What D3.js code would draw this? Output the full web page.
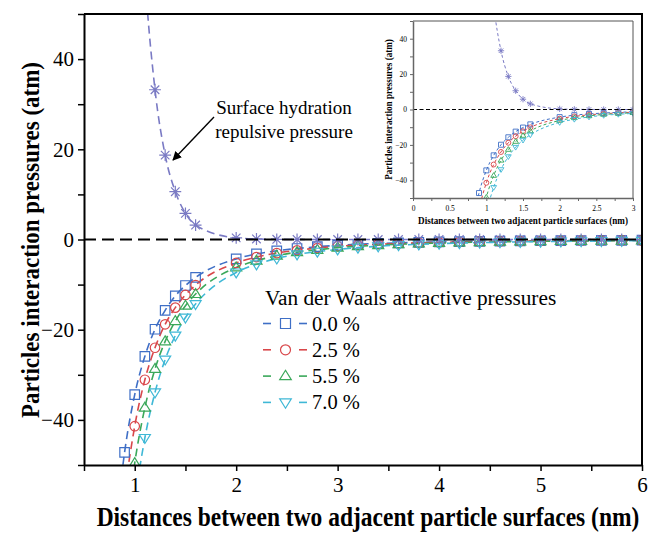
<!DOCTYPE html>
<html><head><meta charset="utf-8">
<script src="https://cdn.jsdelivr.net/npm/d3@7"></script>
<style>body{margin:0;background:#fff}svg{display:block}text{font-family:"Liberation Serif","Times New Roman",serif}</style>
</head><body><svg id="c" width="648" height="537"></svg>
<script>
// ---- data ----
const vdwX = [0.8,0.9,1.0,1.1,1.2,1.3,1.4,1.5,1.6,2.0,2.2,2.4,2.6,2.8,3.0,3.2,3.4,3.6,3.8,4.0,4.2,4.4,4.6,4.8,5.0,5.2,5.4,5.6,5.8,6.0];
const vdw00 = [-67.2,-47.2,-34.4,-25.9,-19.9,-15.7,-12.5,-10.2,-8.4,-4.3,-3.2,-2.5,-2.0,-1.6,-1.3,-1.05,-0.88,-0.74,-0.63,-0.54,-0.46,-0.40,-0.35,-0.31,-0.28,-0.24,-0.22,-0.20,-0.18,-0.16];
const vdw25 = [-80.9,-56.8,-41.4,-31.1,-24.0,-18.8,-15.1,-12.3,-10.1,-5.2,-3.9,-3.0,-2.4,-1.9,-1.5,-1.26,-1.05,-0.89,-0.75,-0.65,-0.56,-0.49,-0.43,-0.37,-0.33,-0.29,-0.26,-0.24,-0.21,-0.19];
const vdw55 = [-96.9,-68.0,-49.6,-37.3,-28.7,-22.6,-18.1,-14.7,-12.1,-6.2,-4.7,-3.6,-2.8,-2.3,-1.8,-1.5,-1.26,-1.06,-0.90,-0.78,-0.67,-0.58,-0.51,-0.45,-0.40,-0.35,-0.32,-0.28,-0.25,-0.23];
const vdw70 = [-114,-80.2,-58.5,-44.0,-33.9,-26.6,-21.3,-17.3,-14.3,-7.3,-5.5,-4.2,-3.3,-2.7,-2.2,-1.8,-1.5,-1.25,-1.07,-0.91,-0.79,-0.69,-0.60,-0.53,-0.47,-0.42,-0.37,-0.33,-0.30,-0.27];
const hydX = [1.0,1.1,1.2,1.3,1.4,1.5,1.6,2.0,2.2,2.4,2.6,2.8,3.0,3.2,3.4,3.6,3.8,4.0,4.2,4.4,4.6,4.8,5.0,5.2,5.4,5.6,5.8,6.0];
const hydration = [105,59,33.2,18.7,10.6,5.8,3.2,0.35,0.12,0.04,0.01,0,0,0,0,0,0,0,0,0,0,0,0,0,0,0,0,0];
const seriesNames = ["0.0 %","2.5 %","5.5 %","7.0 %"];
const seriesColors = ["#3f6fc6","#d9474a","#3aa85a","#3fb8d6"];
const seriesShapes = ["square","circle","triUp","triDown"];
const hydColor = "#7a7ac4";
const xTicksMain = [1,2,3,4,5,6];
const yTicksMain = [-40,-20,0,20,40];
const xTicksInset = [0,0.5,1,1.5,2,2.5,3];
const legendTitle = "Van der Waals attractive pressures";
const annotation = ["Surface hydration","repulsive pressure"];
const xTitle = "Distances between two adjacent particle surfaces (nm)";
const yTitle = "Particles interaction pressures (atm)";

const vdwSeries = [vdw00,vdw25,vdw55,vdw70].map((v,i)=>({name:seriesNames[i],color:seriesColors[i],shape:seriesShapes[i],pts:vdwX.map((x,j)=>[x,v[j]])}));
const hydPts = hydX.map((x,j)=>[x,hydration[j]]);

const svg = d3.select("#c");
svg.append("rect").attr("width",648).attr("height",537).attr("fill","#fff");
const defs = svg.append("defs");

function symbolPath(shape, s){
  const h=s/2;
  if(shape==="square") return `M${-h},${-h}H${h}V${h}H${-h}Z`;
  if(shape==="circle") return `M${h},0A${h},${h} 0 1,1 ${-h},0A${h},${h} 0 1,1 ${h},0Z`;
  if(shape==="triUp") { const t=s*0.58; return `M0,${-t}L${t*1.0},${t*0.62}L${-t*1.0},${t*0.62}Z`; }
  if(shape==="triDown") { const t=s*0.58; return `M0,${t}L${t*1.0},${-t*0.62}L${-t*1.0},${-t*0.62}Z`; }
  if(shape==="star") { const d=h*0.72; return `M0,${-h}V${h}M${-h},0H${h}M${-d},${-d}L${d},${d}M${-d},${d}L${d},${-d}`; }
}

function panel(g, opt){
  const x = d3.scaleLinear().domain(opt.xd).range([opt.l,opt.r]);
  const y = d3.scaleLinear().domain([-50,50]).range([opt.b,opt.t]);
  const id = "clip"+opt.id;
  defs.append("clipPath").attr("id",id).append("rect").attr("x",opt.l).attr("y",opt.t).attr("width",opt.r-opt.l).attr("height",opt.b-opt.t);
  const plot = g.append("g").attr("clip-path",`url(#${id})`);
  const line = d3.line().x(d=>x(d[0])).y(d=>y(d[1])).curve(d3.curveMonotoneX);
  const all = vdwSeries.concat([{color:hydColor,shape:"star",pts:hydPts}]);
  all.forEach(s=>{
    const pts = s.pts.filter(p=>p[0]<=opt.xd[1]+1e-9);
    plot.append("path").attr("d",line(pts)).attr("fill","none").attr("stroke",s.color).attr("stroke-width",opt.lw).attr("stroke-dasharray",opt.dash);
  });
  all.forEach(s=>{
    const pts = s.pts.filter(p=>p[0]<=opt.xd[1]+1e-9 && p[1]>-60 && p[1]<60);
    plot.selectAll(null).data(pts).enter().append("path")
      .attr("transform",d=>`translate(${x(d[0])},${y(d[1])})`)
      .attr("d",symbolPath(s.shape, s.shape==="star"?opt.ms*1.25:opt.ms))
      .attr("fill","none").attr("stroke",s.color).attr("stroke-width",opt.mw);
  });
  // zero line
  g.append("line").attr("x1",opt.l).attr("x2",opt.r).attr("y1",y(0)).attr("y2",y(0))
    .attr("stroke","#000").attr("stroke-width",opt.zw).attr("stroke-dasharray",opt.zdash);
  // axes
  const xa = d3.axisBottom(x).tickValues(d3.range(opt.xd[0],opt.xd[1]+1e-9,opt.xminor)).tickSize(opt.tl).tickSizeOuter(0)
    .tickFormat(d=>opt.xlabels.some(v=>Math.abs(v-d)<1e-9)?d3.format("~g")(d):"");
  const gx = g.append("g").attr("transform",`translate(0,${opt.b})`).call(xa);
  const ya = d3.axisLeft(y).tickValues(d3.range(-50,50.001,10)).tickSize(opt.tl).tickSizeOuter(0)
    .tickFormat(d=>yTicksMain.includes(Math.round(d))?d3.format("d")(d):"");
  const gy = g.append("g").attr("transform",`translate(${opt.l},0)`).call(ya);
  [gx,gy].forEach(a=>{
    a.attr("font-family",null);
    a.select(".domain").attr("stroke",opt.axc).attr("stroke-width",opt.aw);
    a.selectAll(".tick line").attr("stroke",opt.axc).attr("stroke-width",opt.tw);
    a.selectAll(".tick text").attr("font-size",opt.fs).attr("fill","#000").style("font-family","'Liberation Serif',serif");
  });
  gx.selectAll(".tick text").attr("dy",opt.xdy);
  gy.selectAll(".tick text").attr("dx",opt.ydx);
  // frame
  g.append("path").attr("d",`M${opt.l},${opt.t}H${opt.r}V${opt.b}`).attr("fill","none").attr("stroke",opt.frc).attr("stroke-width",opt.fw);
  return {x,y};
}

const main = svg.append("g");
panel(main,{id:"m",xd:[0.5,6],l:84,r:642,t:14,b:465,lw:1.6,dash:"8,5",ms:9.5,mw:1.2,zw:2,zdash:"12,6",xminor:0.5,xlabels:xTicksMain,tl:6,axc:"#000",aw:2,tw:1.5,fs:21,xdy:"0.85em",ydx:"-0.05em",frc:"#000",fw:2});

const inset = svg.append("g");
inset.append("rect").attr("x",413).attr("y",21).attr("width",220).attr("height",177).attr("fill","#fff");
panel(inset,{id:"i",xd:[0,3],l:413,r:633,t:21,b:198,lw:1,dash:"3,2.5",ms:5,mw:0.9,zw:1.2,zdash:"4,2.5",xminor:0.25,xlabels:xTicksInset,tl:3,axc:"#666",aw:1.5,tw:1,fs:7.5,xdy:"0.9em",ydx:"0",frc:"#555",fw:1});
inset.append("text").attr("transform","translate(523,224) scale(1,1.1)").attr("text-anchor","middle").attr("font-size",9.1).attr("font-weight","bold").text(xTitle);
inset.append("text").attr("transform","translate(392,109.5) rotate(-90) scale(1,1.1)").attr("text-anchor","middle").attr("font-size",9.1).attr("font-weight","bold").text(yTitle);

// axis titles main
svg.append("text").attr("transform","translate(368,526) scale(1,1.12)").attr("text-anchor","middle").attr("font-size",23.5).attr("font-weight","bold").text(xTitle);
svg.append("text").attr("transform","translate(39,240) rotate(-90) scale(1,1.12)").attr("text-anchor","middle").attr("font-size",23).attr("font-weight","bold").text(yTitle);

// annotation
svg.append("text").attr("x",284).attr("y",114).attr("text-anchor","middle").attr("font-size",19).text(annotation[0]);
svg.append("text").attr("x",284).attr("y",138).attr("text-anchor","middle").attr("font-size",19).text(annotation[1]);
defs.append("marker").attr("id","ah").attr("viewBox","0 0 10 10").attr("refX",9).attr("refY",5).attr("markerWidth",9).attr("markerHeight",9).attr("markerUnits","userSpaceOnUse").attr("orient","auto")
  .append("path").attr("d","M0,0L10,5L0,10Z").attr("fill","#000");
svg.append("line").attr("x1",214).attr("y1",117).attr("x2",173).attr("y2",160).attr("stroke","#000").attr("stroke-width",1.4).attr("marker-end","url(#ah)");

// legend
const lg = svg.append("g");
lg.append("text").attr("x",265).attr("y",305).attr("font-size",21.3).text(legendTitle);
vdwSeries.forEach((s,i)=>{
  const yy = 323.5 + i*26.3;
  lg.append("line").attr("x1",263).attr("x2",271).attr("y1",yy).attr("y2",yy).attr("stroke",s.color).attr("stroke-width",1.6);
  lg.append("line").attr("x1",299).attr("x2",307).attr("y1",yy).attr("y2",yy).attr("stroke",s.color).attr("stroke-width",1.6);
  lg.append("path").attr("transform",`translate(285.5,${yy})`).attr("d",symbolPath(s.shape,10)).attr("fill","none").attr("stroke",s.color).attr("stroke-width",1.2);
  lg.append("text").attr("x",312).attr("y",yy+7).attr("font-size",20.5).text(s.name);
});
</script></body></html>
